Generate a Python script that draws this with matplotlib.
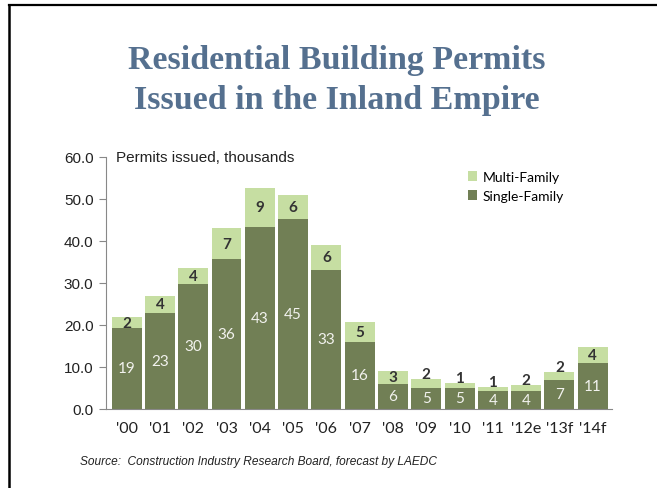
import numpy as np
import matplotlib.pyplot as plt
from matplotlib.patches import Patch
from matplotlib.lines import Line2D

# Inland Empire residential permits, thousands
years = ["'00", "'01", "'02", "'03", "'04", "'05", "'06", "'07",
         "'08", "'09", "'10", "'11", "'12e", "'13f", "'14f"]
single_family = [19.3, 22.8, 29.8, 35.8, 43.4, 45.3, 33.2, 16.0,
                 6.0, 5.1, 5.0, 4.2, 4.2, 7.0, 11.0]
multi_family = [2.5, 4.2, 3.7, 7.2, 9.2, 5.6, 5.8, 4.6,
                3.0, 2.1, 1.2, 1.1, 1.5, 1.8, 3.8]
yticks = [0, 10, 20, 30, 40, 50, 60]

dark_green = '#717f55'
light_green = '#c6dea2'
title_blue = '#55708f'
label_font = ['Lato', 'DejaVu Sans']

fig = plt.figure(figsize=(6.57, 4.89), dpi=100)
ax = fig.add_axes([106 / 657, 79 / 489, 506 / 657, 252 / 489])

x = np.arange(len(years))
single = np.array(single_family)
multi = np.array(multi_family)
ax.bar(x, single, width=0.9, color=dark_green, linewidth=0)
ax.bar(x, multi, width=0.9, bottom=single, color=light_green, linewidth=0)

# value labels: single-family in white, multi-family in dark bold
for i in range(len(years)):
    ax.text(x[i], single[i] / 2, f"{single[i]:.0f}", ha='center', va='center',
            color='#f2f2ee', fontsize=11, family=label_font)
    top = single[i] + multi[i]
    if multi[i] >= 2.4:
        ly = single[i] + multi[i] / 2
    else:
        ly = top + 1.2
    ax.text(x[i], ly, f"{multi[i]:.0f}", ha='center', va='center',
            color='#333333', fontsize=11, fontweight='bold', family=label_font)

ax.set_xlim(-0.62, 14.58)
ax.set_ylim(0, 60)
ax.set_yticks(yticks)
ax.set_yticklabels([f"{v:.1f}" for v in yticks], fontsize=11,
                   family='Liberation Sans', color='#222222')
ax.set_xticks(x)
ax.set_xticklabels(years, fontsize=11.5, family=label_font, color='#222222')
ax.tick_params(axis='x', length=0, pad=9)
ax.tick_params(axis='y', length=5, width=0.8, color='#888888', pad=4)

for side in ['top', 'right']:
    ax.spines[side].set_visible(False)
ax.spines['left'].set_color('#888888')
ax.spines['bottom'].set_color('#888888')
ax.spines['left'].set_linewidth(0.8)
ax.spines['bottom'].set_linewidth(0.8)

ax.text(0.02, 1.0, 'Permits issued, thousands', transform=ax.transAxes,
        ha='left', va='center', fontsize=11, family='Liberation Sans', color='#222222')

handles = [Patch(facecolor=light_green, label='Multi-Family'),
           Patch(facecolor=dark_green, label='Single-Family')]
fig.legend(handles=handles, loc='upper left', bbox_to_anchor=(455 / 657, 1 - 159 / 489),
           frameon=False, handlelength=0.7, handleheight=0.7, handletextpad=0.4,
           labelspacing=0.55, prop={'family': label_font, 'size': 10})

fig.text(0.513, 1 - 60 / 489, 'Residential Building Permits', ha='center', va='center',
         fontsize=24.5, fontweight='bold', family='Liberation Serif', color=title_blue)
fig.text(0.513, 1 - 101 / 489, 'Issued in the Inland Empire', ha='center', va='center',
         fontsize=24.5, fontweight='bold', family='Liberation Serif', color=title_blue)

fig.text(80 / 657, 1 - 462 / 489,
         'Source:  Construction Industry Research Board, forecast by LAEDC',
         ha='left', va='center', fontsize=8.6, style='italic',
         family='Liberation Sans', color='#222222')

# page frame along the top and left edges
fig.add_artist(Line2D([9 / 657, 1], [1 - 5.5 / 489, 1 - 5.5 / 489],
                      transform=fig.transFigure, color='black', linewidth=1.6))
fig.add_artist(Line2D([9 / 657, 9 / 657], [0, 1 - 5.5 / 489],
                      transform=fig.transFigure, color='black', linewidth=1.8))

fig.savefig('out.png', dpi=100)
